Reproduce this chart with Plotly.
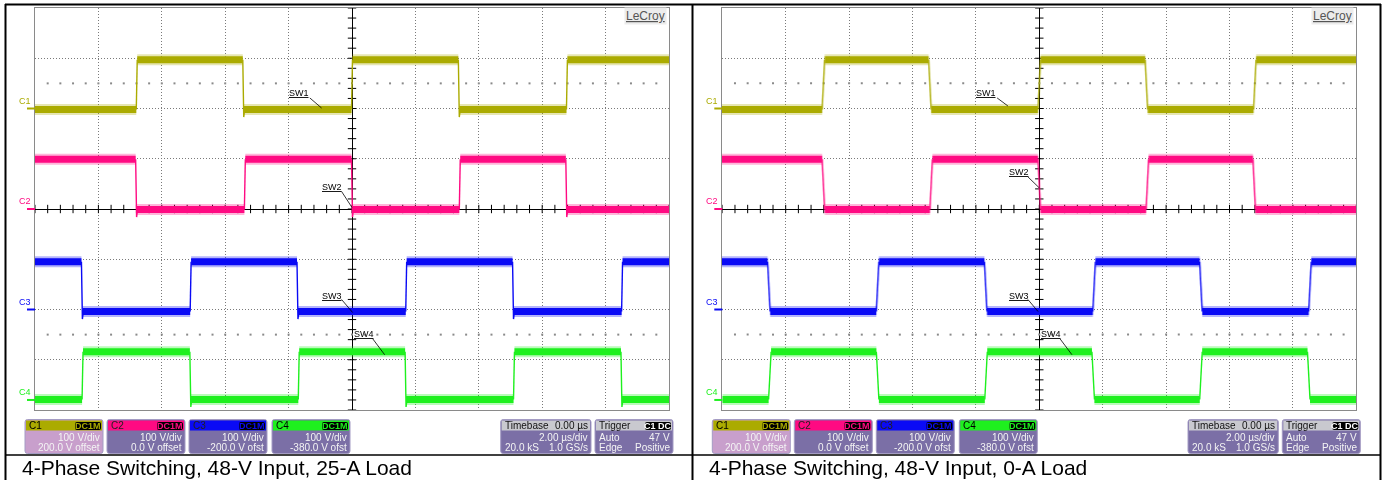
import plotly.graph_objects as go

FIG_W, FIG_H = 1383, 480

# ---------------------------------------------------------------- data
captions = ["4-Phase Switching, 48-V Input, 25-A Load",
            "4-Phase Switching, 48-V Input, 0-A Load"]

channel_names = ["C1", "C2", "C3", "C4"]
switch_names = ["SW1", "SW2", "SW3", "SW4"]
channel_colors = ["#ABAB00", "#FF0A82", "#0A0AF5", "#1EF01E"]

# screen levels of each switch node, in vertical divisions from the centre line
ground_div = [2.0, 0.0, -2.0, -3.8]
low_div = [1.98, -0.01, -2.04, -3.79]
high_div = [2.97, 0.99, -1.05, -2.84]
starts_high = [False, True, True, False]

# switching instants (µs), 25-A load
sw1_edges_25a = [-6.79, -3.43, 0.0, 3.37, 6.78]
sw2_edges_25a = [-6.81, -3.38, 0.0, 3.40, 6.76]
sw3_edges_25a = [-8.52, -5.09, -1.72, 1.71, 5.08, 8.52]
sw4_edges_25a = [-8.50, -5.10, -1.68, 1.69, 5.11, 8.50]

# switching instants (µs), 0-A load
sw1_edges_0a = [-6.81, -3.45, 0.0, 3.38, 6.80]
sw2_edges_0a = [-6.81, -3.41, 0.0, 3.41, 6.78]
sw3_edges_0a = [-8.53, -5.10, -1.69, 1.73, 5.10, 8.54]
sw4_edges_0a = [-8.50, -5.10, -1.68, 1.70, 5.10, 8.50]

edge_time_us = [0.03, 0.08]       # transition duration per capture
undershoot_div = [0.15, 0.0]      # dip below the low rail after a falling edge

# scope readouts
volts_per_div = ["100 V/div", "100 V/div", "100 V/div", "100 V/div"]
offset_text = ["200.0 V offset", "0.0 V offset", "-200.0 V ofst", "-380.0 V ofst"]
coupling = "DC1M"
timebase_delay = "0.00 µs"
timebase_scale = "2.00 µs/div"
record_length = "20.0 kS"
sample_rate = "1.0 GS/s"
trigger_source = "C1 DC"
trigger_mode = "Auto"
trigger_level = "47 V"
trigger_type = "Edge"
trigger_slope = "Positive"
trigger_level_div = 2.47
level_marks_div = [2.5, -2.5]

# ---------------------------------------------------------------- layout helpers
T_RANGE = [-10.0, 10.0]
Y_RANGE = [-4.0, 4.0]
PLOT_X0 = [35.0, 722.3]
PLOT_W = 634.0
PLOT_TOP, PLOT_BOTTOM = 8.0, 410.0
FONT = "Liberation Sans, Arial, sans-serif"


def px(x):
    return x / FIG_W


def py(y):
    return 1 - y / FIG_H


def step_wave(edges, lo, hi, start_high, t_edge, dip):
    """Split a switching waveform into flat rails and thin edges."""
    fx, fy, ex, ey = [], [], [], []
    is_high = start_high
    t_prev = T_RANGE[0]
    for t in edges:
        cur = hi if is_high else lo
        nxt = lo if is_high else hi
        a, b = t - t_edge / 2, t + t_edge / 2
        fx += [t_prev, a, None]
        fy += [cur, cur, None]
        if is_high and dip > 0:
            ex += [a, b, b + 0.03, None]
            ey += [cur, nxt - dip, nxt, None]
        else:
            ex += [a, b, None]
            ey += [cur, nxt, None]
        t_prev = b
        is_high = not is_high
    cur = hi if is_high else lo
    fx += [t_prev, T_RANGE[1]]
    fy += [cur, cur]
    return fx, fy, ex, ey


def rounded_path(x0, y0, x1, y1, r):
    X = [px(v) for v in (x0, x0 + r, x1 - r, x1)]
    Y = [py(v) for v in (y0, y0 + r, y1 - r, y1)]
    return (f"M {X[1]},{Y[0]} L {X[2]},{Y[0]} Q {X[3]},{Y[0]} {X[3]},{Y[1]} "
            f"L {X[3]},{Y[2]} Q {X[3]},{Y[3]} {X[2]},{Y[3]} "
            f"L {X[1]},{Y[3]} Q {X[0]},{Y[3]} {X[0]},{Y[2]} "
            f"L {X[0]},{Y[1]} Q {X[0]},{Y[0]} {X[1]},{Y[0]} Z")


captures = [
    [sw1_edges_25a, sw2_edges_25a, sw3_edges_25a, sw4_edges_25a],
    [sw1_edges_0a, sw2_edges_0a, sw3_edges_0a, sw4_edges_0a],
]

# switch-node label placement: text centre, leader start, leader end (µs, div)
label_text_pos = [
    [(-1.67, 2.31), (-0.62, 0.44), (-0.62, -1.73), (0.37, -2.48)],
    [(-1.67, 2.31), (-0.64, 0.74), (-0.64, -1.73), (0.37, -2.48)],
]
leader_from = [
    [(-1.33, 2.21), (-0.33, 0.35), (-0.33, -1.80), (0.65, -2.58)],
    [(-1.33, 2.21), (-0.36, 0.64), (-0.36, -1.80), (0.65, -2.58)],
]
leader_to = [
    [(-0.96, 2.01), (0.0, 0.03), (0.02, -2.06), (1.03, -2.90)],
    [(-0.99, 2.05), (0.0, 0.42), (-0.04, -2.04), (1.03, -2.90)],
]

fig = go.Figure()
shapes = []
annotations = []

axis_common = dict(showgrid=True, gridcolor="#7a7a7a", griddash="1px,2px", gridwidth=1,
                   zeroline=True, zerolinecolor="#000000", zerolinewidth=1,
                   showline=True, mirror=True, linecolor="#8a8a8a", linewidth=1,
                   showticklabels=False, ticks="", fixedrange=True)

layout_axes = {}
for k in range(2):
    sfx = "" if k == 0 else "2"
    xa, ya = "x" + sfx, "y" + sfx
    layout_axes["xaxis" + sfx] = dict(axis_common, domain=[px(PLOT_X0[k]), px(PLOT_X0[k] + PLOT_W)],
                                      range=T_RANGE, dtick=2, tick0=0, anchor=ya)
    layout_axes["yaxis" + sfx] = dict(axis_common, domain=[py(PLOT_BOTTOM), py(PLOT_TOP)],
                                      range=Y_RANGE, dtick=1, tick0=0, anchor=xa)

    # graticule ticks on the centre lines and the dotted level rows
    tx = [T_RANGE[0] + 0.4 * i for i in range(51)]
    ty = [Y_RANGE[0] + 0.2 * i for i in range(41)]
    fig.add_trace(go.Scatter(x=tx, y=[0] * len(tx), mode="markers", xaxis=xa, yaxis=ya,
                             marker=dict(symbol="line-ns", size=6, line=dict(width=1, color="#000")),
                             hoverinfo="skip", showlegend=False))
    fig.add_trace(go.Scatter(x=[0] * len(ty), y=ty, mode="markers", xaxis=xa, yaxis=ya,
                             marker=dict(symbol="line-ew", size=6, line=dict(width=1, color="#000")),
                             hoverinfo="skip", showlegend=False))
    for lv in level_marks_div:
        fig.add_trace(go.Scatter(x=tx[1:-1], y=[lv] * (len(tx) - 2), mode="markers", xaxis=xa, yaxis=ya,
                                 marker=dict(symbol="square", size=2, color="#8a8a8a"),
                                 hoverinfo="skip", showlegend=False))

    # switch-node waveforms
    for c in range(4):
        col = channel_colors[c]
        fx, fy, ex, ey = step_wave(captures[k][c], low_div[c], high_div[c], starts_high[c],
                                   edge_time_us[k], undershoot_div[k])
        fig.add_trace(go.Scatter(x=fx, y=fy, mode="lines", xaxis=xa, yaxis=ya, opacity=0.3,
                                 line=dict(color=col, width=11), hoverinfo="skip", showlegend=False))
        fig.add_trace(go.Scatter(x=fx, y=fy, mode="lines", xaxis=xa, yaxis=ya,
                                 line=dict(color=col, width=7), hoverinfo="skip", showlegend=False))
        fig.add_trace(go.Scatter(x=ex, y=ey, mode="lines", xaxis=xa, yaxis=ya,
                                 line=dict(color=col, width=1.4), hoverinfo="skip", showlegend=False))

        # ground marker and channel tag at the left edge
        shapes.append(dict(type="line", xref=xa + " domain", yref=ya, x0=-8 / PLOT_W, x1=0,
                           y0=ground_div[c], y1=ground_div[c], line=dict(color=col, width=2)))
        annotations.append(dict(xref=xa + " domain", yref=ya, x=-2 / PLOT_W, y=ground_div[c],
                                xanchor="right", yanchor="bottom", yshift=1, showarrow=False,
                                text=channel_names[c], font=dict(family=FONT, size=9, color=col)))

        # switch-node label with leader
        tx0, ty0 = label_text_pos[k][c]
        annotations.append(dict(xref=xa, yref=ya, x=tx0, y=ty0, showarrow=False,
                                text=f"<u>{switch_names[c]}</u>",
                                font=dict(family=FONT, size=9, color="#000")))
        (lx0, ly0), (lx1, ly1) = leader_from[k][c], leader_to[k][c]
        shapes.append(dict(type="line", xref=xa, yref=ya, x0=lx0, y0=ly0, x1=lx1, y1=ly1,
                           line=dict(color="#000", width=0.8)))

    # trigger position and trigger level markers
    fig.add_trace(go.Scatter(x=[0], y=[-4.08], mode="markers", xaxis=xa, yaxis=ya, cliponaxis=False,
                             marker=dict(symbol="triangle-up", size=8, color=channel_colors[0]),
                             hoverinfo="skip", showlegend=False))
    fig.add_trace(go.Scatter(x=[10.12], y=[trigger_level_div], mode="markers", xaxis=xa, yaxis=ya,
                             cliponaxis=False,
                             marker=dict(symbol="triangle-left", size=7, color=channel_colors[0]),
                             hoverinfo="skip", showlegend=False))

    # maker logo
    annotations.append(dict(xref="paper", yref="paper", x=px(PLOT_X0[k] + PLOT_W - 2), y=py(16),
                            xanchor="right", yanchor="middle", showarrow=False,
                            text="<u>LeCroy</u>", bgcolor="#ececec", borderpad=1,
                            font=dict(family=FONT, size=12, color="#555555")))

    # channel readout boxes
    off = PLOT_X0[k] - PLOT_X0[0]
    box_top, box_bot, head_bot = 419.5, 453.5, 430.5
    body_col = "#7b6fa6"
    for c, bx in enumerate([25, 107, 189, 272]):
        x0, x1 = bx + off, bx + 78 + off
        shapes.append(dict(type="path", xref="paper", yref="paper",
                           path=rounded_path(x0, box_top, x1, box_bot, 2.5),
                           fillcolor="#c89fcc" if c == 0 else body_col,
                           line=dict(color="#a49cc4", width=1)))
        shapes.append(dict(type="rect", xref="paper", yref="paper",
                           x0=px(x0 + 1), x1=px(x1 - 1), y0=py(head_bot), y1=py(box_top + 1),
                           fillcolor=channel_colors[c], line=dict(width=0)))
        shapes.append(dict(type="path", xref="paper", yref="paper",
                           path=rounded_path(x1 - 28, box_top + 2.5, x1 - 2, box_top + 10.5, 2),
                           fillcolor="#000", line=dict(width=0)))
        annotations.append(dict(xref="paper", yref="paper", x=px(x0 + 2), y=py(425.5),
                                xanchor="left", yanchor="middle", showarrow=False,
                                text=channel_names[c],
                                font=dict(family=FONT, size=10,
                                          color="#000" if c in (0, 3) else "#222")))
        annotations.append(dict(xref="paper", yref="paper", x=px(x1 - 15), y=py(426),
                                xanchor="center", yanchor="middle", showarrow=False,
                                text=f"<b>{coupling}</b>",
                                font=dict(family=FONT, size=9, color=channel_colors[c])))
        annotations.append(dict(xref="paper", yref="paper", x=px(x1 - 1.5), y=py(437.5),
                                xanchor="right", yanchor="middle", showarrow=False,
                                text=volts_per_div[c],
                                font=dict(family=FONT, size=10, color="#f4f4f4")))
        annotations.append(dict(xref="paper", yref="paper", x=px(x1 - 1.5), y=py(447.5),
                                xanchor="right", yanchor="middle", showarrow=False,
                                text=offset_text[c],
                                font=dict(family=FONT, size=10, color="#f4f4f4")))

    # timebase and trigger boxes
    for (bx0, bx1, head_l, head_r, rows) in [
        (500.7, 591.0, "Timebase", timebase_delay, [("", timebase_scale), (record_length, sample_rate)]),
        (595.0, 673.0, "Trigger", None, [(trigger_mode, trigger_level), (trigger_type, trigger_slope)]),
    ]:
        x0, x1 = bx0 + off, bx1 + off
        shapes.append(dict(type="path", xref="paper", yref="paper",
                           path=rounded_path(x0, box_top, x1, box_bot, 2.5),
                           fillcolor=body_col, line=dict(color="#a49cc4", width=1)))
        shapes.append(dict(type="rect", xref="paper", yref="paper",
                           x0=px(x0 + 1), x1=px(x1 - 1), y0=py(head_bot), y1=py(box_top + 1),
                           fillcolor="#c9c9cf", line=dict(width=0)))
        annotations.append(dict(xref="paper", yref="paper", x=px(x0 + 2), y=py(425.5),
                                xanchor="left", yanchor="middle", showarrow=False, text=head_l,
                                font=dict(family=FONT, size=10, color="#111")))
        if head_r:
            annotations.append(dict(xref="paper", yref="paper", x=px(x1 - 1.5), y=py(425.5),
                                    xanchor="right", yanchor="middle", showarrow=False, text=head_r,
                                    font=dict(family=FONT, size=10, color="#111")))
        else:
            shapes.append(dict(type="path", xref="paper", yref="paper",
                               path=rounded_path(x1 - 28, box_top + 2.5, x1 - 2, box_top + 10.5, 2),
                               fillcolor="#000", line=dict(width=0)))
            annotations.append(dict(xref="paper", yref="paper", x=px(x1 - 15), y=py(426),
                                    xanchor="center", yanchor="middle", showarrow=False,
                                    text=f"<b>{trigger_source}</b>",
                                    font=dict(family=FONT, size=9, color="#ffffff")))
        for r, (lt, rt) in enumerate(rows):
            yy = py(437.5 + 10 * r)
            if lt:
                annotations.append(dict(xref="paper", yref="paper", x=px(x0 + 2), y=yy,
                                        xanchor="left", yanchor="middle", showarrow=False, text=lt,
                                        font=dict(family=FONT, size=10, color="#f4f4f4")))
            annotations.append(dict(xref="paper", yref="paper", x=px(x1 - 1.5), y=yy,
                                    xanchor="right", yanchor="middle", showarrow=False, text=rt,
                                    font=dict(family=FONT, size=10, color="#f4f4f4")))

    # caption row
    annotations.append(dict(xref="paper", yref="paper", x=px(20 + off), y=py(467),
                            xanchor="left", yanchor="middle", showarrow=False, text=captions[k],
                            font=dict(family=FONT, size=21, color="#000")))

# table rules
for (x0, y0, x1, y1, w) in [(5, 4.5, 1381, 4.5, 2), (5.5, 4, 5.5, 480, 2),
                            (692.5, 4, 692.5, 480, 2), (1380.5, 4, 1380.5, 480, 2),
                            (5, 455, 1381, 455, 1.5)]:
    shapes.append(dict(type="line", xref="paper", yref="paper", x0=px(x0), y0=py(y0),
                       x1=px(x1), y1=py(y1), line=dict(color="#000", width=w)))

fig.update_layout(width=FIG_W, height=FIG_H, margin=dict(l=0, r=0, t=0, b=0),
                  paper_bgcolor="#ffffff", plot_bgcolor="#ffffff", showlegend=False,
                  shapes=shapes, annotations=annotations, **layout_axes)

fig.write_html("out.html", config={"displayModeBar": False})
